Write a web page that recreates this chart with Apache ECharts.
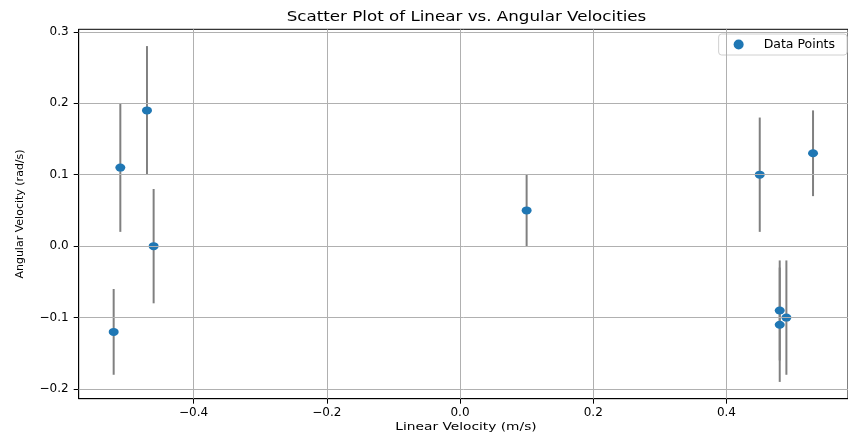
<!DOCTYPE html>
<html>
<head>
<meta charset="utf-8">
<script src="https://cdn.jsdelivr.net/npm/echarts@6/dist/echarts.min.js"></script>
<style>
    html, body { margin: 0; padding: 0; background: #fff; }
    #chart { width: 848px; height: 437px; }
</style>
</head>
<body>
<div id="chart"></div>
<script>
const linear = [-0.52, -0.51, -0.47, -0.46, 0.10, 0.45, 0.53, 0.48, 0.48, 0.49];
const angular = [-0.12, 0.11, 0.19, 0.00, 0.05, 0.10, 0.13, -0.09, -0.11, -0.10];
const angularErr = [0.06, 0.09, 0.09, 0.08, 0.05, 0.08, 0.06, 0.07, 0.08, 0.08];

const xTicks = [-0.4, -0.2, 0.0, 0.2, 0.4];
const yTicks = [-0.2, -0.1, 0.0, 0.1, 0.2, 0.3];

const titleText = "Scatter Plot of Linear vs. Angular Velocities";
const xName = "Linear Velocity (m/s)";
const yName = "Angular Velocity (rad/s)";

const fontFamily = "DejaVu Sans";
const gridColor = "#b0b0b0";

const fmt = v => v.toFixed(1).replace("-", "\u2212");

const points = linear.map((x, i) => [x, angular[i]]);
const bars = linear.map((x, i) => [x, angular[i] - angularErr[i], angular[i] + angularErr[i]]);

// the reference is a little stretched sideways, so horizontal texts get a scaleX
function wideText(text, x, y, size, stretch) {
    return {
        type: "text",
        x: x,
        y: y,
        scaleX: stretch,
        silent: true,
        style: {
            text: text,
            fontFamily: fontFamily,
            fontSize: size,
            fill: "#000",
            align: "center",
            verticalAlign: "middle",
            textAlign: "center",
            textVerticalAlign: "middle"
        }
    };
}

const tickStyle = { show: true, length: 5, lineStyle: { color: "#000", width: 1 } };
const lineStyle = { show: true, onZero: false, lineStyle: { color: "#000", width: 1 } };

const option = {
    animation: false,
    backgroundColor: "#fff",
    graphic: [
        wideText(titleText, 466.5, 17, 13.7, 1.22),
        wideText(xName, 466, 427, 11, 1.25)
    ],
    legend: {
        data: ["Data Points"],
        right: 1,
        top: 34,
        icon: "circle",
        itemWidth: 10,
        itemHeight: 10,
        padding: [4, 12, 4, 15],
        borderColor: "#d0d0d0",
        borderWidth: 1,
        borderRadius: 3,
        backgroundColor: "rgba(255,255,255,0.8)",
        textStyle: { fontFamily, fontSize: 12.5, color: "#000", padding: [0, 0, 0, 15] }
    },
    grid: {
        left: 78.7,
        top: 29.3,
        width: 776,
        height: 369.4,
        show: true,
        borderColor: "#000",
        borderWidth: 1
    },
    xAxis: {
        type: "value",
        min: -0.5725,
        max: 0.5825,
        axisLine: lineStyle,
        axisTick: Object.assign({ customValues: xTicks }, tickStyle),
        splitLine: { show: false },
        axisLabel: {
            customValues: xTicks,
            formatter: fmt,
            fontFamily, fontSize: 12, color: "#000", margin: 8
        }
    },
    yAxis: {
        type: "value",
        min: -0.2135,
        max: 0.3035,
        name: yName,
        nameLocation: "middle",
        nameGap: 53,
        nameRotate: 90,
        nameTextStyle: { fontFamily, fontSize: 11, color: "#000" },
        axisLine: lineStyle,
        axisTick: Object.assign({ customValues: yTicks }, tickStyle),
        splitLine: { show: false },
        axisLabel: {
            customValues: yTicks,
            formatter: fmt,
            fontFamily, fontSize: 12, color: "#000", margin: 10
        }
    },
    series: [
        {
            // grid lines at the tick positions
            name: "grid",
            type: "line",
            data: [],
            z: 1,
            silent: true,
            markLine: {
                silent: true,
                symbol: "none",
                animation: false,
                label: { show: false },
                lineStyle: { color: gridColor, width: 1, type: "solid" },
                data: xTicks.map(v => ({ xAxis: v })).concat(yTicks.map(v => ({ yAxis: v })))
            }
        },
        {
            name: "errors",
            type: "custom",
            z: 2,
            silent: true,
            data: bars,
            renderItem: (params, api) => {
                const lo = api.coord([api.value(0), api.value(1)]);
                const hi = api.coord([api.value(0), api.value(2)]);
                return {
                    type: "line",
                    shape: { x1: lo[0], y1: lo[1], x2: hi[0], y2: hi[1] },
                    style: { stroke: "#808080", lineWidth: 2 }
                };
            }
        },
        {
            name: "Data Points",
            type: "scatter",
            z: 3,
            data: points,
            symbol: "circle",
            symbolSize: [10, 8],
            itemStyle: { color: "#1f77b4", opacity: 1 }
        }
    ]
};

const chart = echarts.init(document.getElementById("chart"));
chart.setOption(option);
</script>
</body>
</html>
